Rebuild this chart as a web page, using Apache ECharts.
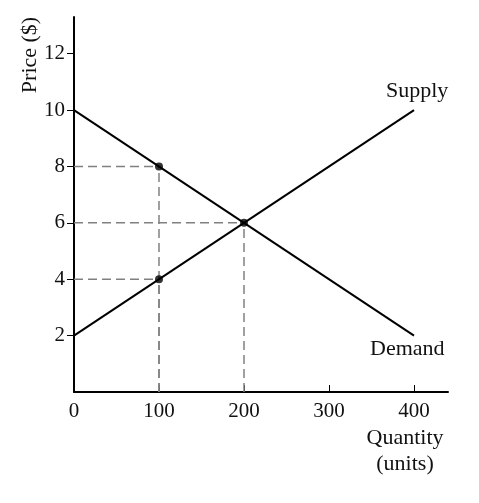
<!DOCTYPE html>
<html>
<head>
<meta charset="utf-8">
<script src="https://cdn.jsdelivr.net/npm/echarts@6/dist/echarts.min.js"></script>
<style>html,body{margin:0;padding:0;background:#fff;}#c{width:479px;height:503px;}</style>
</head>
<body>
<div id="c"></div>
<script>
const xTicks = [0, 100, 200, 300, 400];
const yTicks = [2, 4, 6, 8, 10, 12];
const supplyQ = [0, 400];
const supplyP = [2, 10];
const demandQ = [0, 400];
const demandP = [10, 2];
const markedQ = [100, 100, 200];
const markedP = [8, 4, 6];
const supplyName = 'Supply';
const demandName = 'Demand';
const yName = 'Price ($)';
const xName = ['Quantity', '(units)'];

const FONT = '"Liberation Serif", "DejaVu Serif", serif';
const chart = echarts.init(document.getElementById('c'));

const guides = [];
markedQ.forEach((q, i) => {
  const p = markedP[i];
  guides.push([[0, p], [q, p]]);
  guides.push([[q, 0], [q, p]]);
});

const series = [];
guides.forEach(g => series.push({
  type: 'line', data: g, symbol: 'none', silent: true,
  lineStyle: { color: '#808080', width: 1.5, type: [9, 5] }, z: 1
}));
series.push({
  type: 'line', name: supplyName,
  data: supplyQ.map((q, i) => [q, supplyP[i]]),
  symbol: 'none', lineStyle: { color: '#000', width: 2 }, z: 3,
  endLabel: { show: true, formatter: supplyName, fontFamily: FONT, fontSize: 22, color: '#111', offset: [-36, -19] }
});
series.push({
  type: 'line', name: demandName,
  data: demandQ.map((q, i) => [q, demandP[i]]),
  symbol: 'none', lineStyle: { color: '#000', width: 2 }, z: 3,
  endLabel: { show: true, formatter: demandName, fontFamily: FONT, fontSize: 22, color: '#111', offset: [-52, 14] }
});
series.push({
  type: 'scatter', data: markedQ.map((q, i) => [q, markedP[i]]),
  symbolSize: 8, itemStyle: { color: '#000' }, z: 5
});

chart.setOption({
  animation: false,
  grid: { left: 74, right: 31, top: 17, bottom: 111 },
  xAxis: {
    type: 'value', min: 0, max: 440,
    axisLine: { show: true, lineStyle: { color: '#000', width: 2 } },
    axisTick: { show: true, inside: true, length: 7, customValues: xTicks, lineStyle: { color: '#000', width: 1 } },
    axisLabel: { customValues: xTicks, fontFamily: FONT, fontSize: 21, color: '#111', margin: 9 },
    splitLine: { show: false }
  },
  yAxis: {
    type: 'value', min: 0, max: 13.3,
    axisLine: { show: true, lineStyle: { color: '#000', width: 2 } },
    axisTick: { show: true, inside: false, length: 7, customValues: yTicks, lineStyle: { color: '#000', width: 1 } },
    axisLabel: { customValues: yTicks, fontFamily: FONT, fontSize: 21, color: '#111', margin: 9 },
    splitLine: { show: false }
  },
  graphic: [
    { type: 'text', x: 30, y: 55, rotation: Math.PI / 2,
      style: { text: yName, font: '22px ' + FONT, fill: '#111', align: 'center', verticalAlign: 'middle' } },
    { type: 'text', x: 405, y: 438,
      style: { text: xName[0], font: '22px ' + FONT, fill: '#111', align: 'center', verticalAlign: 'middle' } },
    { type: 'text', x: 405, y: 464,
      style: { text: xName[1], font: '22px ' + FONT, fill: '#111', align: 'center', verticalAlign: 'middle' } }
  ],
  series: series
});
</script>
</body>
</html>
